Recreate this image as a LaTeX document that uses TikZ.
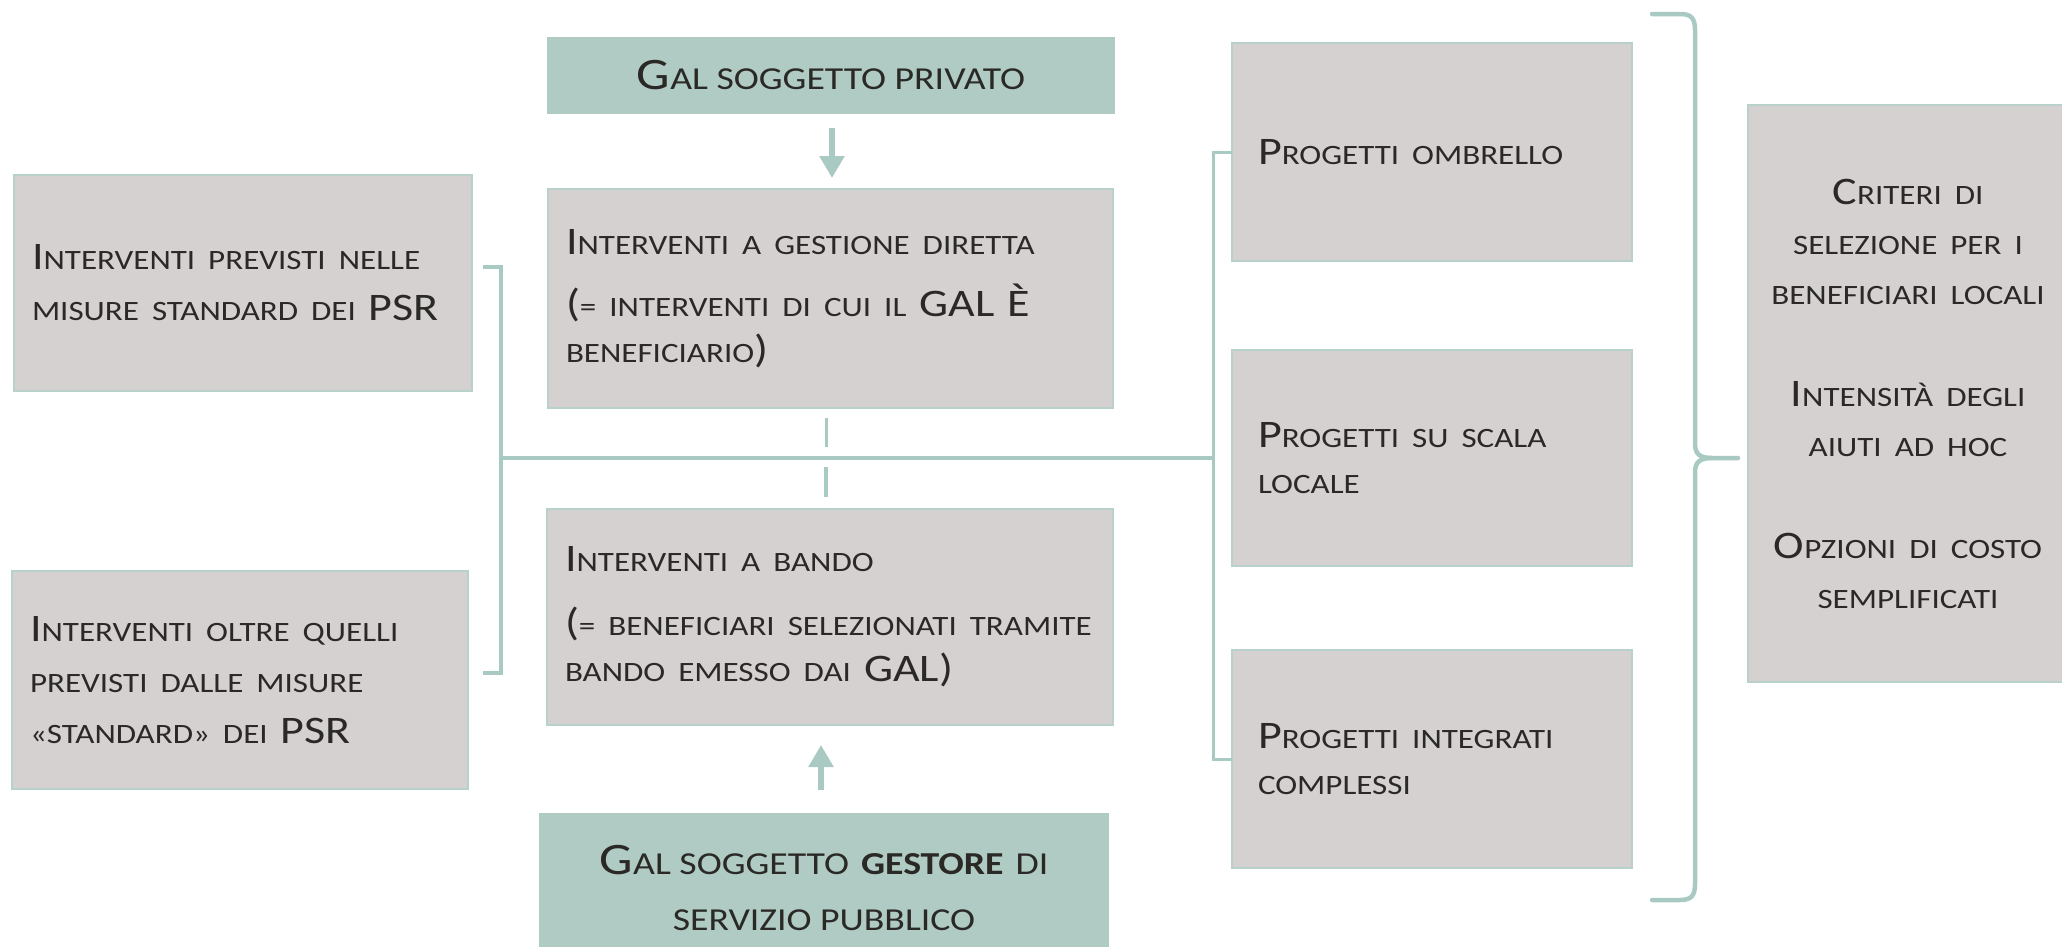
\documentclass[tikz,border=0pt]{standalone}
\usepackage{fontspec}
\setmainfont{Carlito}[FakeStretch=1.18]
\usetikzlibrary{arrows.meta,calc}
\definecolor{grn}{HTML}{B0CBC4}
\definecolor{gry}{HTML}{D5D1D1}
\definecolor{ln}{HTML}{A9CAC2}
\definecolor{bord}{HTML}{B8D2CB}
\definecolor{txt}{HTML}{2A2926}
\newcommand\sca[1]{{\fontsize{28}{28}\selectfont\MakeUppercase{#1}}}
\newcommand\scb[1]{{\fontsize{32}{32}\selectfont\MakeUppercase{#1}}}
\tikzset{
  graybox/.style={fill=gry, draw=bord, line width=2pt, inner sep=0pt, outer sep=0pt,
    anchor=north west, text=txt, align=left},
  greenbox/.style={fill=grn, draw=none, inner sep=0pt, outer sep=0pt,
    anchor=north west, text=txt, align=center},
  conn/.style={draw=ln, line width=3.5pt},
  arr/.style={draw=ln, line width=6pt, -{Triangle[width=24pt,length=22pt]}},
  bracepath/.style={draw=ln, line width=4.5pt, line cap=round},
  f51/.style={font=\fontsize{39}{51}\selectfont},
  f46/.style={font=\fontsize{39}{46}\selectfont},
  f50/.style={font=\fontsize{39}{50}\selectfont},
  fgr/.style={font=\fontsize{45}{56}\selectfont},
}
\begin{document}
\begin{tikzpicture}[x=1pt,y=-1pt]
\useasboundingbox (0,0) rectangle (2062,946);
\clip (0,0) rectangle (2062,946);
\fill[white] (0,0) rectangle (2062,946);

% green boxes
\node[greenbox, fgr, minimum width=568pt, minimum height=77pt] (gp) at (547,37)
  {G\scb{al soggetto privato}};
\node[greenbox, fgr, minimum width=570pt, minimum height=150pt] (gg) at (539,813)
  {G\scb{al soggetto} \textbf{\scb{gestore}} \scb{di}\\ \scb{servizio pubblico}};

% left boxes
\node[graybox, f51, minimum width=458pt, minimum height=216pt, text width=422pt] (lt) at (14,175)
  {I\sca{nterventi previsti nelle}\\ \sca{misure standard dei} PSR};
\node[graybox, f51, minimum width=456pt, minimum height=218pt, text width=420pt] (lb) at (12,571)
  {I\sca{nterventi oltre quelli}\\ \sca{previsti dalle misure}\\ \sca{«standard» dei} PSR};

% middle boxes
\node[graybox, f46, minimum width=565pt, minimum height=219pt, text width=529pt] (mt) at (548,189)
  {I\sca{nterventi a gestione diretta}\\[16pt] (\sca{= interventi di cui il} GAL È\\ \sca{beneficiario})};
\node[graybox, f46, minimum width=566pt, minimum height=216pt, text width=530pt] (mb) at (547,509)
  {I\sca{nterventi a bando}\\[18pt] (\sca{= beneficiari selezionati tramite}\\ \sca{bando emesso dai} GAL)};

% right column
\node[graybox, f46, minimum width=400pt, minimum height=218pt, text width=348pt] (po) at (1232,43)
  {P\sca{rogetti ombrello}};
\node[graybox, f46, minimum width=400pt, minimum height=216pt, text width=348pt] (ps) at (1232,350)
  {P\sca{rogetti su scala}\\ \sca{locale}};
\node[graybox, f46, minimum width=400pt, minimum height=218pt, text width=348pt] (pi) at (1232,650)
  {P\sca{rogetti integrati}\\ \sca{complessi}};

% far right
\node[graybox, f50, minimum width=320pt, minimum height=577pt, text width=310pt, align=center] (fr) at (1748,105)
  {C\sca{riteri di}\\ \sca{selezione per i}\\ \sca{beneficiari locali}\\[52pt]
   I\sca{ntensità degli}\\ \sca{aiuti ad hoc}\\[52pt]
   O\sca{pzioni di costo}\\ \sca{semplificati}};

% arrows
\draw[arr, shorten <=14pt, shorten >=11pt] ([xshift=1pt]gp.south) -- ([xshift=1pt]gp.south |- mt.north);
\draw[arr, shorten <=23pt, shorten >=20pt] ([xshift=-3pt]gg.north) -- ([xshift=-3pt]gg.north |- mb.south);

% junction coordinates
\coordinate (lj) at (501,458);
\coordinate (rj) at (1213,458);
\coordinate (ltt) at (483,267);
\coordinate (lbt) at (483,673);

% left bracket
\draw[conn] (ltt) -| (lj) |- (lbt);
% main horizontal line
\draw[conn] (lj) -- (rj);
% right bracket
\draw[conn, line width=3pt] (po.west) -| (rj) |- (pi.west);

% short vertical segments between middle boxes
\draw[conn] ([xshift=-4pt,yshift=-10pt]mt.south) -- ++(0,29);
\draw[conn] ([xshift=-4pt,yshift=12pt]mb.north) -- ++(0,-30);

% brace
\coordinate (tip) at (1738,458);
\draw[bracepath] (1652,14) -- (1680,14) .. controls (1691,14) and (1695,18) .. (1695,30)
  -- (1695,444) .. controls (1695,454) and (1700,458) .. (1712,458) -- (tip);
\draw[bracepath] (1712,458) .. controls (1700,458) and (1695,462) .. (1695,472)
  -- (1695,884) .. controls (1695,896) and (1691,900) .. (1680,900) -- (1652,900);
\end{tikzpicture}
\end{document}
